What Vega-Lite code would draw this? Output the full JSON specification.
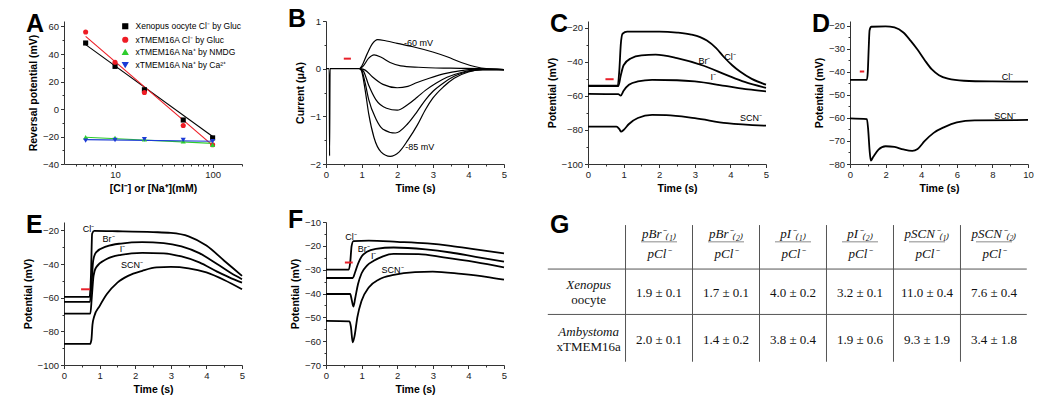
{
"$schema": "https://vega.github.io/schema/vega-lite/v6.json",
"background": "white",
"padding": {"left": 23, "top": 7, "right": 0, "bottom": 0},
"datasets": {
"A_pts": [
{"s":"Xenopus oocyte Cl⁻ by Gluc","c":5,"r":48},{"s":"Xenopus oocyte Cl⁻ by Gluc","c":10,"r":31},{"s":"Xenopus oocyte Cl⁻ by Gluc","c":20,"r":14},{"s":"Xenopus oocyte Cl⁻ by Gluc","c":50,"r":-8},{"s":"Xenopus oocyte Cl⁻ by Gluc","c":100,"r":-21},
{"s":"xTMEM16A Cl⁻ by Gluc","c":5,"r":56},{"s":"xTMEM16A Cl⁻ by Gluc","c":10,"r":34},{"s":"xTMEM16A Cl⁻ by Gluc","c":20,"r":12},{"s":"xTMEM16A Cl⁻ by Gluc","c":50,"r":-12},{"s":"xTMEM16A Cl⁻ by Gluc","c":100,"r":-26},
{"s":"xTMEM16A Na⁺ by NMDG","c":5,"r":-20.5},{"s":"xTMEM16A Na⁺ by NMDG","c":10,"r":-21},{"s":"xTMEM16A Na⁺ by NMDG","c":20,"r":-22},{"s":"xTMEM16A Na⁺ by NMDG","c":50,"r":-23.5},{"s":"xTMEM16A Na⁺ by NMDG","c":100,"r":-26},
{"s":"xTMEM16A Na⁺ by Ca²⁺","c":5,"r":-23},{"s":"xTMEM16A Na⁺ by Ca²⁺","c":10,"r":-22.5},{"s":"xTMEM16A Na⁺ by Ca²⁺","c":20,"r":-22},{"s":"xTMEM16A Na⁺ by Ca²⁺","c":50,"r":-22.5},{"s":"xTMEM16A Na⁺ by Ca²⁺","c":100,"r":-23.5}
],
"A_fit": [
{"s":"Xenopus oocyte Cl⁻ by Gluc","c":5,"r":46.8},{"s":"Xenopus oocyte Cl⁻ by Gluc","c":100,"r":-20},
{"s":"xTMEM16A Cl⁻ by Gluc","c":5,"r":52.8},{"s":"xTMEM16A Cl⁻ by Gluc","c":100,"r":-26.5},
{"s":"xTMEM16A Na⁺ by NMDG","c":5,"r":-20.5},{"s":"xTMEM16A Na⁺ by NMDG","c":100,"r":-25},
{"s":"xTMEM16A Na⁺ by Ca²⁺","c":5,"r":-22.3},{"s":"xTMEM16A Na⁺ by Ca²⁺","c":100,"r":-23.5}
],
"B": [
{"k":"base","t":0,"v":0},{"k":"base","t":0.09,"v":0},{"k":"base","t":0.1,"v":-1.83},{"k":"base","t":0.115,"v":0},{"k":"base","t":0.95,"v":0},
{"k":"m60","t":0.95,"v":0},{"k":"m60","t":1.0,"v":0.05},{"k":"m60","t":1.15,"v":0.3},{"k":"m60","t":1.3,"v":0.52},{"k":"m60","t":1.45,"v":0.61},{"k":"m60","t":1.7,"v":0.58},{"k":"m60","t":2.0,"v":0.53},{"k":"m60","t":2.5,"v":0.45},{"k":"m60","t":3.0,"v":0.35},{"k":"m60","t":3.4,"v":0.25},{"k":"m60","t":3.8,"v":0.13},{"k":"m60","t":4.2,"v":0.04},{"k":"m60","t":4.5,"v":0.0},{"k":"m60","t":5,"v":-0.02},
{"k":"m65","t":0.95,"v":0},{"k":"m65","t":1.05,"v":0.06},{"k":"m65","t":1.2,"v":0.22},{"k":"m65","t":1.35,"v":0.29},{"k":"m65","t":1.55,"v":0.24},{"k":"m65","t":1.8,"v":0.13},{"k":"m65","t":2.1,"v":0.06},{"k":"m65","t":2.6,"v":0.03},{"k":"m65","t":3.5,"v":0.01},{"k":"m65","t":4.4,"v":0},{"k":"m65","t":5,"v":-0.02},
{"k":"m70","t":0.95,"v":0},{"k":"m70","t":1.1,"v":-0.03},{"k":"m70","t":1.3,"v":-0.17},{"k":"m70","t":1.6,"v":-0.33},{"k":"m70","t":2.0,"v":-0.4},{"k":"m70","t":2.3,"v":-0.37},{"k":"m70","t":2.56,"v":-0.29},{"k":"m70","t":2.9,"v":-0.2},{"k":"m70","t":3.3,"v":-0.11},{"k":"m70","t":3.8,"v":-0.04},{"k":"m70","t":4.3,"v":-0.01},{"k":"m70","t":5,"v":-0.02},
{"k":"m75","t":0.95,"v":0},{"k":"m75","t":1.05,"v":-0.05},{"k":"m75","t":1.2,"v":-0.35},{"k":"m75","t":1.4,"v":-0.65},{"k":"m75","t":1.7,"v":-0.83},{"k":"m75","t":2.0,"v":-0.87},{"k":"m75","t":2.3,"v":-0.75},{"k":"m75","t":2.56,"v":-0.6},{"k":"m75","t":2.8,"v":-0.45},{"k":"m75","t":3.1,"v":-0.3},{"k":"m75","t":3.4,"v":-0.18},{"k":"m75","t":3.8,"v":-0.08},{"k":"m75","t":4.3,"v":-0.02},{"k":"m75","t":5,"v":-0.02},
{"k":"m80","t":0.95,"v":0},{"k":"m80","t":1.0,"v":-0.03},{"k":"m80","t":1.1,"v":-0.3},{"k":"m80","t":1.2,"v":-0.65},{"k":"m80","t":1.4,"v":-1.05},{"k":"m80","t":1.6,"v":-1.27},{"k":"m80","t":1.95,"v":-1.35},{"k":"m80","t":2.3,"v":-1.15},{"k":"m80","t":2.56,"v":-0.9},{"k":"m80","t":2.8,"v":-0.65},{"k":"m80","t":3.0,"v":-0.48},{"k":"m80","t":3.3,"v":-0.3},{"k":"m80","t":3.6,"v":-0.16},{"k":"m80","t":4.0,"v":-0.06},{"k":"m80","t":4.4,"v":-0.02},{"k":"m80","t":5,"v":-0.02},
{"k":"m85","t":0.95,"v":0},{"k":"m85","t":1.0,"v":-0.05},{"k":"m85","t":1.1,"v":-0.45},{"k":"m85","t":1.2,"v":-0.95},{"k":"m85","t":1.35,"v":-1.45},{"k":"m85","t":1.55,"v":-1.75},{"k":"m85","t":1.8,"v":-1.84},{"k":"m85","t":2.05,"v":-1.75},{"k":"m85","t":2.3,"v":-1.5},{"k":"m85","t":2.56,"v":-1.19},{"k":"m85","t":2.8,"v":-0.85},{"k":"m85","t":3.0,"v":-0.62},{"k":"m85","t":3.3,"v":-0.38},{"k":"m85","t":3.6,"v":-0.2},{"k":"m85","t":4.0,"v":-0.07},{"k":"m85","t":4.4,"v":-0.02},{"k":"m85","t":5,"v":-0.02}
],
"C": [
{"k":"Cl","t":0,"v":-54},{"k":"Cl","t":0.82,"v":-54},{"k":"Cl","t":0.88,"v":-45},{"k":"Cl","t":0.92,"v":-30},{"k":"Cl","t":0.97,"v":-23.5},{"k":"Cl","t":1.1,"v":-22.3},{"k":"Cl","t":2.0,"v":-22.2},{"k":"Cl","t":2.5,"v":-22.8},{"k":"Cl","t":2.9,"v":-24},{"k":"Cl","t":3.15,"v":-25.5},{"k":"Cl","t":3.34,"v":-27.5},{"k":"Cl","t":3.6,"v":-32},{"k":"Cl","t":3.81,"v":-37},{"k":"Cl","t":4.05,"v":-42},{"k":"Cl","t":4.27,"v":-45.7},{"k":"Cl","t":4.6,"v":-50},{"k":"Cl","t":5,"v":-53.4},
{"k":"Br","t":0,"v":-54.3},{"k":"Br","t":0.85,"v":-54.3},{"k":"Br","t":0.92,"v":-48},{"k":"Br","t":1.0,"v":-42},{"k":"Br","t":1.2,"v":-38},{"k":"Br","t":1.5,"v":-36.2},{"k":"Br","t":1.9,"v":-35.8},{"k":"Br","t":2.5,"v":-37.8},{"k":"Br","t":3.25,"v":-42.3},{"k":"Br","t":3.9,"v":-47.8},{"k":"Br","t":4.4,"v":-51.8},{"k":"Br","t":5,"v":-55.3},
{"k":"I","t":0,"v":-58.8},{"k":"I","t":0.85,"v":-59},{"k":"I","t":0.92,"v":-59.8},{"k":"I","t":1.0,"v":-57},{"k":"I","t":1.15,"v":-53.5},{"k":"I","t":1.4,"v":-51.5},{"k":"I","t":1.8,"v":-50.6},{"k":"I","t":2.5,"v":-50.8},{"k":"I","t":3.0,"v":-51.5},{"k":"I","t":3.9,"v":-54.3},{"k":"I","t":4.5,"v":-56.2},{"k":"I","t":5,"v":-57.3},
{"k":"SCN","t":0,"v":-78},{"k":"SCN","t":0.8,"v":-78},{"k":"SCN","t":0.88,"v":-79.5},{"k":"SCN","t":0.93,"v":-81},{"k":"SCN","t":1.0,"v":-80},{"k":"SCN","t":1.15,"v":-76.5},{"k":"SCN","t":1.4,"v":-73},{"k":"SCN","t":1.8,"v":-71.2},{"k":"SCN","t":2.2,"v":-71.3},{"k":"SCN","t":3.0,"v":-73.1},{"k":"SCN","t":3.9,"v":-76},{"k":"SCN","t":5,"v":-77.5}
],
"D": [
{"k":"Cl","t":0,"v":-43.5},{"k":"Cl","t":0.95,"v":-43.5},{"k":"Cl","t":1.0,"v":-40},{"k":"Cl","t":1.05,"v":-30},{"k":"Cl","t":1.1,"v":-22},{"k":"Cl","t":1.2,"v":-20.5},{"k":"Cl","t":2.0,"v":-20.3},{"k":"Cl","t":2.5,"v":-20.8},{"k":"Cl","t":3.0,"v":-23},{"k":"Cl","t":3.4,"v":-26.5},{"k":"Cl","t":3.8,"v":-30.5},{"k":"Cl","t":4.2,"v":-35},{"k":"Cl","t":4.6,"v":-39},{"k":"Cl","t":5.0,"v":-41.5},{"k":"Cl","t":5.5,"v":-43},{"k":"Cl","t":6.4,"v":-43.9},{"k":"Cl","t":8,"v":-44.2},{"k":"Cl","t":10,"v":-44.3},
{"k":"SCN","t":0,"v":-60.2},{"k":"SCN","t":0.95,"v":-60.5},{"k":"SCN","t":1.02,"v":-65},{"k":"SCN","t":1.1,"v":-74},{"k":"SCN","t":1.17,"v":-78.5},{"k":"SCN","t":1.3,"v":-77},{"k":"SCN","t":1.6,"v":-73.8},{"k":"SCN","t":2.0,"v":-72.3},{"k":"SCN","t":2.5,"v":-72.6},{"k":"SCN","t":3.0,"v":-73.7},{"k":"SCN","t":3.5,"v":-74.3},{"k":"SCN","t":3.8,"v":-73.5},{"k":"SCN","t":4.2,"v":-70},{"k":"SCN","t":4.7,"v":-66.5},{"k":"SCN","t":5.3,"v":-64},{"k":"SCN","t":6.0,"v":-62},{"k":"SCN","t":7.0,"v":-61.1},{"k":"SCN","t":10,"v":-60.9}
],
"E": [
{"k":"Cl","t":0,"v":-59.5},{"k":"Cl","t":0.72,"v":-59.5},{"k":"Cl","t":0.76,"v":-45},{"k":"Cl","t":0.79,"v":-22},{"k":"Cl","t":0.85,"v":-20.3},{"k":"Cl","t":1.5,"v":-20.5},{"k":"Cl","t":2.5,"v":-21},{"k":"Cl","t":3.0,"v":-21.5},{"k":"Cl","t":3.5,"v":-23.5},{"k":"Cl","t":4.0,"v":-29},{"k":"Cl","t":4.5,"v":-38},{"k":"Cl","t":5.0,"v":-47},
{"k":"Br","t":0,"v":-62.5},{"k":"Br","t":0.73,"v":-62.5},{"k":"Br","t":0.78,"v":-50},{"k":"Br","t":0.82,"v":-38},{"k":"Br","t":0.9,"v":-33},{"k":"Br","t":1.2,"v":-29.5},{"k":"Br","t":1.6,"v":-27.8},{"k":"Br","t":2.2,"v":-27},{"k":"Br","t":2.8,"v":-27.5},{"k":"Br","t":3.3,"v":-29.5},{"k":"Br","t":3.8,"v":-33.5},{"k":"Br","t":4.3,"v":-40},{"k":"Br","t":4.7,"v":-45.5},{"k":"Br","t":5,"v":-49},
{"k":"I","t":0,"v":-69.5},{"k":"I","t":0.74,"v":-69.5},{"k":"I","t":0.78,"v":-60},{"k":"I","t":0.83,"v":-47},{"k":"I","t":0.9,"v":-42},{"k":"I","t":1.2,"v":-37},{"k":"I","t":1.6,"v":-34.5},{"k":"I","t":2.2,"v":-33.3},{"k":"I","t":2.8,"v":-33.6},{"k":"I","t":3.3,"v":-35.5},{"k":"I","t":3.8,"v":-39},{"k":"I","t":4.3,"v":-44.5},{"k":"I","t":4.7,"v":-48.5},{"k":"I","t":5,"v":-51},
{"k":"SCN","t":0,"v":-87.5},{"k":"SCN","t":0.73,"v":-87.5},{"k":"SCN","t":0.77,"v":-85},{"k":"SCN","t":0.8,"v":-76},{"k":"SCN","t":0.85,"v":-71},{"k":"SCN","t":1.0,"v":-65},{"k":"SCN","t":1.2,"v":-58},{"k":"SCN","t":1.5,"v":-51},{"k":"SCN","t":1.8,"v":-47},{"k":"SCN","t":2.2,"v":-44},{"k":"SCN","t":2.6,"v":-42},{"k":"SCN","t":3.0,"v":-41.7},{"k":"SCN","t":3.5,"v":-42.5},{"k":"SCN","t":4.0,"v":-45},{"k":"SCN","t":4.5,"v":-49.5},{"k":"SCN","t":5,"v":-55}
],
"F": [
{"k":"Cl","t":0,"v":-30},{"k":"Cl","t":0.64,"v":-30},{"k":"Cl","t":0.68,"v":-27},{"k":"Cl","t":0.72,"v":-20},{"k":"Cl","t":0.77,"v":-18},{"k":"Cl","t":1.2,"v":-17.8},{"k":"Cl","t":2.0,"v":-18.3},{"k":"Cl","t":2.85,"v":-19},{"k":"Cl","t":3.5,"v":-20},{"k":"Cl","t":4.2,"v":-21.5},{"k":"Cl","t":5,"v":-23.2},
{"k":"Br","t":0,"v":-33.5},{"k":"Br","t":0.75,"v":-33.5},{"k":"Br","t":0.82,"v":-31},{"k":"Br","t":0.9,"v":-27.5},{"k":"Br","t":1.0,"v":-24.5},{"k":"Br","t":1.15,"v":-22.5},{"k":"Br","t":1.4,"v":-21.3},{"k":"Br","t":1.9,"v":-20.7},{"k":"Br","t":2.8,"v":-21.5},{"k":"Br","t":3.5,"v":-22.8},{"k":"Br","t":4.2,"v":-24.6},{"k":"Br","t":5,"v":-26.6},
{"k":"I","t":0,"v":-40.2},{"k":"I","t":0.68,"v":-40.2},{"k":"I","t":0.72,"v":-42.5},{"k":"I","t":0.77,"v":-45.5},{"k":"I","t":0.82,"v":-42},{"k":"I","t":0.9,"v":-36},{"k":"I","t":1.0,"v":-31.5},{"k":"I","t":1.15,"v":-28.3},{"k":"I","t":1.34,"v":-26.3},{"k":"I","t":1.6,"v":-24.4},{"k":"I","t":1.9,"v":-23.4},{"k":"I","t":2.6,"v":-23.5},{"k":"I","t":3.3,"v":-24.8},{"k":"I","t":4.2,"v":-26.8},{"k":"I","t":5,"v":-29},
{"k":"SCN","t":0,"v":-51.5},{"k":"SCN","t":0.66,"v":-51.7},{"k":"SCN","t":0.7,"v":-54},{"k":"SCN","t":0.75,"v":-60.5},{"k":"SCN","t":0.8,"v":-58},{"k":"SCN","t":0.88,"v":-50},{"k":"SCN","t":1.0,"v":-43},{"k":"SCN","t":1.2,"v":-37.5},{"k":"SCN","t":1.5,"v":-34},{"k":"SCN","t":1.9,"v":-32.2},{"k":"SCN","t":2.5,"v":-31},{"k":"SCN","t":3.0,"v":-30.8},{"k":"SCN","t":3.8,"v":-31.8},{"k":"SCN","t":4.5,"v":-33},{"k":"SCN","t":5,"v":-34.2}
],
"stim": [
{"p":"B","t":0.5,"t2":0.7,"v":0.21},
{"p":"C","t":0.49,"t2":0.72,"v":-50.2},
{"p":"D","t":0.55,"t2":0.8,"v":-39.9},
{"p":"E","t":0.48,"t2":0.73,"v":-55},
{"p":"F","t":0.53,"t2":0.75,"v":-27}
],
"lab": [
{"p":"B","t":2.6,"v":0.53,"txt":"-60 mV"},{"p":"B","t":2.63,"v":-1.64,"txt":"-85 mV"},
{"p":"C","t":3.99,"v":-37.2,"txt":"Cl⁻"},{"p":"C","t":3.27,"v":-39.4,"txt":"Br⁻"},{"p":"C","t":3.52,"v":-49,"txt":"I⁻"},{"p":"C","t":4.58,"v":-73.1,"txt":"SCN⁻"},
{"p":"D","t":8.85,"v":-42.3,"txt":"Cl⁻"},{"p":"D","t":8.72,"v":-59,"txt":"SCN⁻"},
{"p":"E","t":0.69,"v":-19,"txt":"Cl⁻"},{"p":"E","t":1.25,"v":-25.2,"txt":"Br⁻"},{"p":"E","t":1.64,"v":-31.1,"txt":"I⁻"},{"p":"E","t":1.91,"v":-40.7,"txt":"SCN⁻"},
{"p":"F","t":0.7,"v":-16.4,"txt":"Cl⁻"},{"p":"F","t":1.06,"v":-21.2,"txt":"Br⁻"},{"p":"F","t":1.34,"v":-24.3,"txt":"I⁻"},{"p":"F","t":1.87,"v":-30.1,"txt":"SCN⁻"}
],
"G_h": [{"b":0.5},{"b":1.46}],
"G_v": [{"b":0.5},{"b":1.5},{"b":2.5},{"b":3.5},{"b":4.5},{"b":5.5}],
"G_head": [
{"col":1,"num":"pBr⁻₍₁₎","den":"pCl⁻"},{"col":2,"num":"pBr⁻₍₂₎","den":"pCl⁻"},{"col":3,"num":"pI⁻₍₁₎","den":"pCl⁻"},{"col":4,"num":"pI⁻₍₂₎","den":"pCl⁻"},{"col":5,"num":"pSCN⁻₍₁₎","den":"pCl⁻"},{"col":6,"num":"pSCN⁻₍₂₎","den":"pCl⁻"}
],
"G_rows": [{"row":1,"sp":"Xenopus","sub":"oocyte"},{"row":2,"sp":"Ambystoma","sub":"xTMEM16a"}],
"G_vals": [
{"row":1,"col":1,"val":"1.9 ± 0.1"},{"row":1,"col":2,"val":"1.7 ± 0.1"},{"row":1,"col":3,"val":"4.0 ± 0.2"},{"row":1,"col":4,"val":"3.2 ± 0.1"},{"row":1,"col":5,"val":"11.0 ± 0.4"},{"row":1,"col":6,"val":"7.6 ± 0.4"},
{"row":2,"col":1,"val":"2.0 ± 0.1"},{"row":2,"col":2,"val":"1.4 ± 0.2"},{"row":2,"col":3,"val":"3.8 ± 0.4"},{"row":2,"col":4,"val":"1.9 ± 0.6"},{"row":2,"col":5,"val":"9.3 ± 1.9"},{"row":2,"col":6,"val":"3.4 ± 1.8"}
]
},
"columns": 4,
"bounds": "flush",
"spacing": {"row": 58, "column": 84},
"resolve": {"scale": {"color": "independent", "shape": "independent"}},
"concat": [
{
"title": "A", "width": 178, "height": 143,
"encoding": {
 "x": {"field": "c", "type": "quantitative", "scale": {"type": "log", "domain": [3, 200], "nice": false}, "axis": {"values": [10, 100], "format": "d", "title": "[Cl⁻] or [Na⁺](mM)"}},
 "y": {"field": "r", "type": "quantitative", "scale": {"domain": [-40, 64], "nice": false, "zero": false}, "axis": {"values": [-40, -20, 0, 20, 40, 60], "title": "Reversal potential (mV)"}}
},
"resolve": {"axis": {"x": "independent", "y": "independent"}},
"layer": [
{"data": {"name": "A_fit"}, "mark": {"type": "line", "strokeWidth": 1.1},
 "encoding": {
  "color": {"field": "s", "type": "nominal", "scale": {"domain": ["Xenopus oocyte Cl⁻ by Gluc", "xTMEM16A Cl⁻ by Gluc", "xTMEM16A Na⁺ by NMDG", "xTMEM16A Na⁺ by Ca²⁺"], "range": ["#000000", "#ee1c24", "#2ecc2e", "#1c3bd6"]}}
 }},
{"data": {"name": "A_pts"}, "mark": {"type": "point", "filled": true, "size": 26, "opacity": 1},
 "encoding": {
  "x": {"field": "c", "type": "quantitative", "axis": {"values": [4, 5, 6, 7, 8, 9, 20, 30, 40, 50, 60, 70, 80, 90, 200], "labels": false, "domain": false, "title": null, "tickSize": 2, "orient": "bottom"}},
  "y": {"field": "r", "type": "quantitative", "axis": {"values": [-30, -10, 10, 30, 50], "labels": false, "domain": false, "title": null, "tickSize": 2, "orient": "left"}},
  "color": {"field": "s", "type": "nominal", "legend": {"orient": "none", "legendX": 57, "legendY": 1, "title": null, "labelFontSize": 8.5, "labelLimit": 250, "symbolSize": 22, "rowPadding": 1.5, "labelOffset": 6, "padding": 0}},
  "shape": {"field": "s", "type": "nominal", "scale": {"domain": ["Xenopus oocyte Cl⁻ by Gluc", "xTMEM16A Cl⁻ by Gluc", "xTMEM16A Na⁺ by NMDG", "xTMEM16A Na⁺ by Ca²⁺"], "range": ["square", "circle", "triangle-up", "triangle-down"]}, "legend": {"orient": "none", "legendX": 57, "legendY": 1, "title": null, "labelFontSize": 8.5, "labelLimit": 250, "symbolSize": 22, "rowPadding": 1.5, "labelOffset": 6, "padding": 0}}
 }}
]
},
{
"title": "B", "width": 178, "height": 143,
"encoding": {
 "x": {"field": "t", "type": "quantitative", "scale": {"domain": [0, 5], "nice": false, "zero": false}, "axis": {"values": [0, 1, 2, 3, 4, 5], "title": "Time (s)"}},
 "y": {"field": "v", "type": "quantitative", "scale": {"domain": [-2, 1], "nice": false, "zero": false}, "axis": {"values": [-2, -1, 0, 1], "title": "Current (μA)"}}
},
"resolve": {"axis": {"x": "independent", "y": "independent"}},
"layer": [
{"data": {"name": "B"}, "mark": {"type": "line", "interpolate": "monotone", "color": "#000", "strokeWidth": 1.2}, "encoding": {"detail": {"field": "k", "type": "nominal"}}},
{"data": {"name": "stim"}, "transform": [{"filter": "datum.p === 'B'"}], "mark": {"type": "rule", "color": "#e8202a", "strokeWidth": 2},
 "encoding": {"x": {"field": "t", "type": "quantitative", "axis": {"values": [0.5, 1.5, 2.5, 3.5, 4.5], "labels": false, "domain": false, "title": null, "tickSize": 2, "orient": "bottom"}}, "x2": {"field": "t2"}, "y": {"field": "v", "type": "quantitative", "axis": {"values": [-1.5, -0.5, 0.5], "labels": false, "domain": false, "title": null, "tickSize": 2, "orient": "left"}}}},
{"data": {"name": "lab"}, "transform": [{"filter": "datum.p === 'B'"}], "mark": {"type": "text", "fontSize": 9}, "encoding": {"x": {"field": "t", "type": "quantitative", "axis": null}, "y": {"field": "v", "type": "quantitative", "axis": null}, "text": {"field": "txt", "type": "nominal"}}}
]
},
{
"title": "C", "width": 178, "height": 143,
"encoding": {
 "x": {"field": "t", "type": "quantitative", "scale": {"domain": [0, 5], "nice": false, "zero": false}, "axis": {"values": [0, 1, 2, 3, 4, 5], "title": "Time (s)"}},
 "y": {"field": "v", "type": "quantitative", "scale": {"domain": [-100, -16], "nice": false, "zero": false}, "axis": {"values": [-100, -80, -60, -40, -20], "title": "Potential (mV)"}}
},
"resolve": {"axis": {"x": "independent", "y": "independent"}},
"layer": [
{"data": {"name": "C"}, "mark": {"type": "line", "interpolate": "monotone", "color": "#000", "strokeWidth": 1.8}, "encoding": {"detail": {"field": "k", "type": "nominal"}}},
{"data": {"name": "stim"}, "transform": [{"filter": "datum.p === 'C'"}], "mark": {"type": "rule", "color": "#e8202a", "strokeWidth": 2},
 "encoding": {"x": {"field": "t", "type": "quantitative", "axis": {"values": [0.5, 1.5, 2.5, 3.5, 4.5], "labels": false, "domain": false, "title": null, "tickSize": 2, "orient": "bottom"}}, "x2": {"field": "t2"}, "y": {"field": "v", "type": "quantitative", "axis": {"values": [-90, -70, -50, -30], "labels": false, "domain": false, "title": null, "tickSize": 2, "orient": "left"}}}},
{"data": {"name": "lab"}, "transform": [{"filter": "datum.p === 'C'"}], "mark": {"type": "text", "fontSize": 9}, "encoding": {"x": {"field": "t", "type": "quantitative", "axis": null}, "y": {"field": "v", "type": "quantitative", "axis": null}, "text": {"field": "txt", "type": "nominal"}}}
]
},
{
"title": "D", "width": 178, "height": 143,
"encoding": {
 "x": {"field": "t", "type": "quantitative", "scale": {"domain": [0, 10], "nice": false, "zero": false}, "axis": {"values": [0, 2, 4, 6, 8, 10], "title": "Time (s)"}},
 "y": {"field": "v", "type": "quantitative", "scale": {"domain": [-80, -18], "nice": false, "zero": false}, "axis": {"values": [-80, -70, -60, -50, -40, -30, -20], "title": "Potential (mV)"}}
},
"resolve": {"axis": {"x": "independent", "y": "independent"}},
"layer": [
{"data": {"name": "D"}, "mark": {"type": "line", "interpolate": "monotone", "color": "#000", "strokeWidth": 1.8}, "encoding": {"detail": {"field": "k", "type": "nominal"}}},
{"data": {"name": "stim"}, "transform": [{"filter": "datum.p === 'D'"}], "mark": {"type": "rule", "color": "#e8202a", "strokeWidth": 2},
 "encoding": {"x": {"field": "t", "type": "quantitative", "axis": {"values": [1, 3, 5, 7, 9], "labels": false, "domain": false, "title": null, "tickSize": 2, "orient": "bottom"}}, "x2": {"field": "t2"}, "y": {"field": "v", "type": "quantitative", "axis": {"values": [-75, -65, -55, -45, -35, -25], "labels": false, "domain": false, "title": null, "tickSize": 2, "orient": "left"}}}},
{"data": {"name": "lab"}, "transform": [{"filter": "datum.p === 'D'"}], "mark": {"type": "text", "fontSize": 9}, "encoding": {"x": {"field": "t", "type": "quantitative", "axis": null}, "y": {"field": "v", "type": "quantitative", "axis": null}, "text": {"field": "txt", "type": "nominal"}}}
]
},
{
"title": "E", "width": 178, "height": 143,
"encoding": {
 "x": {"field": "t", "type": "quantitative", "scale": {"domain": [0, 5], "nice": false, "zero": false}, "axis": {"values": [0, 1, 2, 3, 4, 5], "title": "Time (s)"}},
 "y": {"field": "v", "type": "quantitative", "scale": {"domain": [-100, -15], "nice": false, "zero": false}, "axis": {"values": [-100, -80, -60, -40, -20], "title": "Potential (mV)"}}
},
"resolve": {"axis": {"x": "independent", "y": "independent"}},
"layer": [
{"data": {"name": "E"}, "mark": {"type": "line", "interpolate": "monotone", "color": "#000", "strokeWidth": 1.8}, "encoding": {"detail": {"field": "k", "type": "nominal"}}},
{"data": {"name": "stim"}, "transform": [{"filter": "datum.p === 'E'"}], "mark": {"type": "rule", "color": "#e8202a", "strokeWidth": 2},
 "encoding": {"x": {"field": "t", "type": "quantitative", "axis": {"values": [0.5, 1.5, 2.5, 3.5, 4.5], "labels": false, "domain": false, "title": null, "tickSize": 2, "orient": "bottom"}}, "x2": {"field": "t2"}, "y": {"field": "v", "type": "quantitative", "axis": {"values": [-90, -70, -50, -30], "labels": false, "domain": false, "title": null, "tickSize": 2, "orient": "left"}}}},
{"data": {"name": "lab"}, "transform": [{"filter": "datum.p === 'E'"}], "mark": {"type": "text", "fontSize": 9}, "encoding": {"x": {"field": "t", "type": "quantitative", "axis": null}, "y": {"field": "v", "type": "quantitative", "axis": null}, "text": {"field": "txt", "type": "nominal"}}}
]
},
{
"title": "F", "width": 178, "height": 143,
"encoding": {
 "x": {"field": "t", "type": "quantitative", "scale": {"domain": [0, 5], "nice": false, "zero": false}, "axis": {"values": [0, 1, 2, 3, 4, 5], "title": "Time (s)"}},
 "y": {"field": "v", "type": "quantitative", "scale": {"domain": [-70, -10], "nice": false, "zero": false}, "axis": {"values": [-70, -60, -50, -40, -30, -20, -10], "title": "Potential (mV)"}}
},
"resolve": {"axis": {"x": "independent", "y": "independent"}},
"layer": [
{"data": {"name": "F"}, "mark": {"type": "line", "interpolate": "monotone", "color": "#000", "strokeWidth": 1.8}, "encoding": {"detail": {"field": "k", "type": "nominal"}}},
{"data": {"name": "stim"}, "transform": [{"filter": "datum.p === 'F'"}], "mark": {"type": "rule", "color": "#e8202a", "strokeWidth": 2},
 "encoding": {"x": {"field": "t", "type": "quantitative", "axis": {"values": [0.5, 1.5, 2.5, 3.5, 4.5], "labels": false, "domain": false, "title": null, "tickSize": 2, "orient": "bottom"}}, "x2": {"field": "t2"}, "y": {"field": "v", "type": "quantitative", "axis": {"values": [-65, -55, -45, -35, -25, -15], "labels": false, "domain": false, "title": null, "tickSize": 2, "orient": "left"}}}},
{"data": {"name": "lab"}, "transform": [{"filter": "datum.p === 'F'"}], "mark": {"type": "text", "fontSize": 9}, "encoding": {"x": {"field": "t", "type": "quantitative", "axis": null}, "y": {"field": "v", "type": "quantitative", "axis": null}, "text": {"field": "txt", "type": "nominal"}}}
]
},
{
"title": "G", "width": 178, "height": 143,
"layer": [
{"data": {"name": "G_h"}, "mark": {"type": "rule", "color": "#555", "strokeWidth": 1},
 "encoding": {
  "x": {"datum": -0.66, "type": "quantitative", "scale": {"domain": [-0.06, 2.597], "nice": false, "zero": false}, "axis": null},
  "x2": {"datum": 6.49},
  "y": {"field": "b", "type": "quantitative", "scale": {"domain": [-0.495, 2.529], "nice": false, "zero": false, "reverse": true}, "axis": null}
 }},
{"data": {"name": "G_v"}, "mark": {"type": "rule", "color": "#555", "strokeWidth": 1},
 "encoding": {
  "x": {"field": "b", "type": "quantitative", "scale": {"domain": [-0.06, 2.597], "nice": false, "zero": false}, "axis": null},
  "y": {"datum": -0.43, "type": "quantitative", "scale": {"domain": [-0.495, 2.529], "nice": false, "zero": false, "reverse": true}, "axis": null},
  "y2": {"datum": 2.46}
 }},
{"data": {"name": "G_head"}, "mark": {"type": "text", "font": "Liberation Serif", "fontStyle": "italic", "fontSize": 13, "dy": -11, "color": "#111"},
 "encoding": {
  "x": {"field": "col", "type": "quantitative", "scale": {"domain": [-0.06, 2.597], "nice": false, "zero": false}, "axis": null},
  "y": {"datum": 0, "type": "quantitative", "scale": {"domain": [-0.495, 2.529], "nice": false, "zero": false, "reverse": true}, "axis": null},
  "text": {"field": "num", "type": "nominal"}
 }},
{"data": {"name": "G_head"}, "mark": {"type": "text", "font": "Liberation Serif", "fontStyle": "italic", "fontSize": 13, "dy": 9, "color": "#111"},
 "encoding": {
  "x": {"field": "col", "type": "quantitative", "scale": {"domain": [-0.06, 2.597], "nice": false, "zero": false}, "axis": null},
  "y": {"datum": 0, "type": "quantitative", "scale": {"domain": [-0.495, 2.529], "nice": false, "zero": false, "reverse": true}, "axis": null},
  "text": {"field": "den", "type": "nominal"}
 }},
{"data": {"name": "G_head"}, "mark": {"type": "tick", "orient": "horizontal", "size": 36, "thickness": 0.8, "color": "#222", "yOffset": -3.5},
 "encoding": {
  "x": {"field": "col", "type": "quantitative", "scale": {"domain": [-0.06, 2.597], "nice": false, "zero": false}, "axis": null},
  "y": {"datum": 0, "type": "quantitative", "scale": {"domain": [-0.495, 2.529], "nice": false, "zero": false, "reverse": true}, "axis": null}
 }},
{"data": {"name": "G_rows"}, "mark": {"type": "text", "font": "Liberation Serif", "fontStyle": "italic", "fontSize": 13, "dy": -7.5, "color": "#111"},
 "encoding": {
  "x": {"datum": -0.05, "type": "quantitative", "scale": {"domain": [-0.06, 2.597], "nice": false, "zero": false}, "axis": null},
  "y": {"field": "row", "type": "quantitative", "scale": {"domain": [-0.495, 2.529], "nice": false, "zero": false, "reverse": true}, "axis": null},
  "text": {"field": "sp", "type": "nominal"}
 }},
{"data": {"name": "G_rows"}, "mark": {"type": "text", "font": "Liberation Serif", "fontSize": 13, "dy": 7.5, "color": "#111"},
 "encoding": {
  "x": {"datum": -0.05, "type": "quantitative", "scale": {"domain": [-0.06, 2.597], "nice": false, "zero": false}, "axis": null},
  "y": {"field": "row", "type": "quantitative", "scale": {"domain": [-0.495, 2.529], "nice": false, "zero": false, "reverse": true}, "axis": null},
  "text": {"field": "sub", "type": "nominal"}
 }},
{"data": {"name": "G_vals"}, "mark": {"type": "text", "font": "Liberation Serif", "fontSize": 13, "color": "#111"},
 "encoding": {
  "x": {"field": "col", "type": "quantitative", "scale": {"domain": [-0.06, 2.597], "nice": false, "zero": false}, "axis": null},
  "y": {"field": "row", "type": "quantitative", "scale": {"domain": [-0.495, 2.529], "nice": false, "zero": false, "reverse": true}, "axis": null},
  "text": {"field": "val", "type": "nominal"}
 }}
]
}
],
"config": {
 "view": {"stroke": null},
 "font": "Liberation Sans",
 "axis": {"grid": false, "labelFont": "Liberation Sans", "labelFontSize": 9.5, "labelColor": "#222", "labelPadding": 2, "labelFlush": false, "titleFont": "Liberation Sans", "titleFontSize": 10.5, "titleFontWeight": "bold", "titleColor": "#000", "titlePadding": 4, "domainColor": "#333", "tickColor": "#333", "tickSize": 3.5},
 "title": {"anchor": "start", "frame": "group", "font": "Liberation Sans", "fontSize": 25, "fontWeight": "bold", "color": "#000", "offset": 0, "dx": -38, "dy": 20, "baseline": "top"},
 "legend": {"labelFont": "Liberation Sans"},
 "text": {"font": "Liberation Sans", "fontSize": 9}
}
}
